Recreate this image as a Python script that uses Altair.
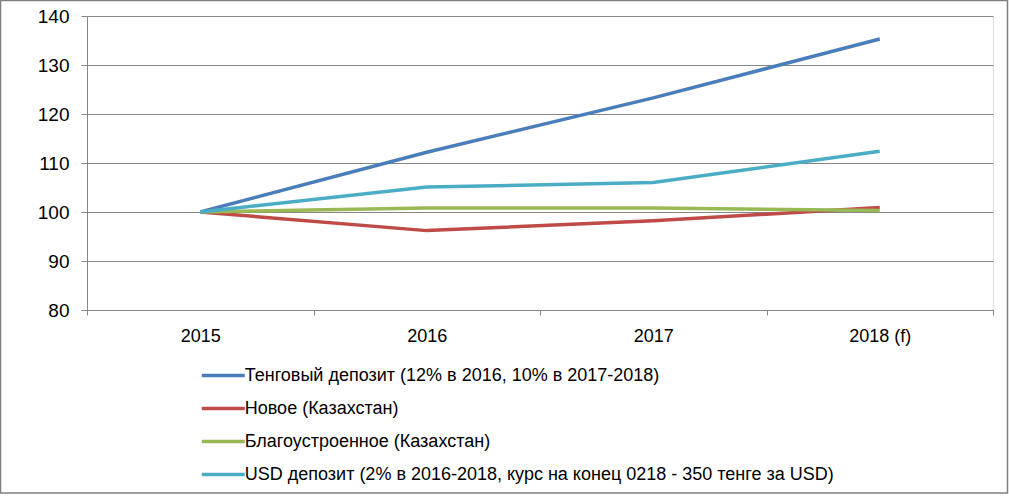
import altair as alt
import pandas as pd

years = ["2015", "2016", "2017", "2018 (f)"]
series_names = [
    "Тенговый депозит (12% в 2016, 10% в 2017-2018)",
    "Новое (Казахстан)",
    "Благоустроенное (Казахстан)",
    "USD депозит (2% в 2016-2018, курс на конец 0218 - 350 тенге за USD)",
]
tenge_deposit = [100, 112.2, 123.3, 135.3]
new_housing = [100, 96.2, 98.2, 100.9]
improved_housing = [100, 100.8, 100.8, 100.3]
usd_deposit = [100, 105.1, 106.0, 112.4]
colors = ["#4A7EBB", "#BE4B48", "#98B954", "#4BACC6"]
y_ticks = [80, 90, 100, 110, 120, 130, 140]

rows = []
for k, (name, vals) in enumerate(zip(series_names, [tenge_deposit, new_housing, improved_housing, usd_deposit])):
    for y, v in zip(years, vals):
        rows.append({"year": y, "value": v, "series": name, "k": k})
df = pd.DataFrame(rows)

FONT = "Liberation Sans"
GRID = "#868686"

lines = alt.Chart(df).mark_line(strokeWidth=3.5).encode(
    x=alt.X(
        "year:N",
        sort=years,
        scale=alt.Scale(type="band", paddingInner=0, paddingOuter=0),
        axis=alt.Axis(
            title=None, labelAngle=0, tickBand="extent", grid=False,
            domainColor=GRID, tickColor=GRID, tickSize=5, labelPadding=12,
            labelFontSize=18, labelColor="#000000", labelFont=FONT,
        ),
    ),
    y=alt.Y(
        "value:Q",
        scale=alt.Scale(domain=[80, 140], nice=False, zero=False),
        axis=alt.Axis(
            title=None, values=y_ticks, grid=True, gridColor=GRID, gridOpacity=1,
            domainColor=GRID, tickColor=GRID, tickSize=6, labelPadding=12,
            labelFontSize=19, labelColor="#000000", labelFont=FONT,
        ),
    ),
    color=alt.Color(
        "series:N",
        sort=series_names,
        scale=alt.Scale(domain=series_names, range=colors),
        legend=alt.Legend(
            title=None, orient="none", legendX=123.75, legendY=347,
            direction="vertical", padding=0,
            symbolType="M-2,0H2", symbolSize=462, symbolStrokeWidth=3.5,
            labelOffset=9, rowPadding=11, labelFontSize=18, labelFont=FONT,
            labelColor="#000000", labelLimit=1000,
        ),
    ),
    order=alt.Order("k:Q"),
)

frame = alt.Chart(pd.DataFrame({"a": [0]})).mark_rect(
    fill=None, stroke="#7F7F7F", strokeWidth=1.5
).encode(
    x=alt.value(-86.5), x2=alt.value(920.5), y=alt.value(-15.5), y2=alt.value(477)
)

chart = alt.layer(lines, frame).properties(
    width=906,
    height=294,
    autosize=alt.AutoSizeParams(type="none"),
    padding={"left": 87, "top": 16, "right": 16, "bottom": 186},
).configure_view(stroke=None).configure(font=FONT)

chart.save("out.html", embed_options={"renderer": "svg", "actions": False})
